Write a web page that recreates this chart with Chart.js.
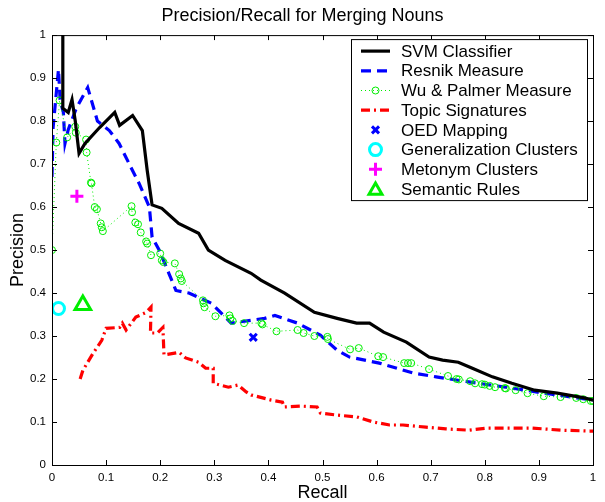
<!DOCTYPE html>
<html>
<head>
<meta charset="utf-8">
<script src="https://cdn.jsdelivr.net/npm/chart.js@4"></script>
<style>
  html, body { margin: 0; padding: 0; background: #fff; }
  #wrap { width: 605px; height: 502px; }
</style>
</head>
<body>
<div id="wrap"><canvas id="pr-chart" width="605" height="502"></canvas></div>
<script>
// recall/precision pairs
const svmPoints = [[0.02,1.0],[0.02,0.83],[0.03,0.82],[0.037,0.85],[0.043,0.80],[0.05,0.725],[0.061,0.748],[0.088,0.785],[0.116,0.82],[0.125,0.79],[0.149,0.813],[0.167,0.778],[0.176,0.685],[0.185,0.605],[0.203,0.597],[0.234,0.562],[0.271,0.539],[0.289,0.50],[0.32,0.476],[0.368,0.446],[0.386,0.43],[0.43,0.40],[0.485,0.355],[0.527,0.341],[0.563,0.33],[0.587,0.33],[0.613,0.309],[0.655,0.286],[0.697,0.251],[0.722,0.244],[0.751,0.239],[0.777,0.225],[0.814,0.205],[0.85,0.19],[0.892,0.174],[0.934,0.167],[0.984,0.156],[1.0,0.151]];

const resnikPoints = [[0.0,0.67],[0.002,0.785],[0.012,0.92],[0.015,0.85],[0.021,0.82],[0.024,0.748],[0.03,0.78],[0.045,0.83],[0.066,0.878],[0.084,0.80],[0.106,0.778],[0.124,0.748],[0.146,0.692],[0.161,0.655],[0.18,0.6],[0.185,0.53],[0.198,0.5],[0.216,0.446],[0.229,0.406],[0.253,0.40],[0.295,0.376],[0.331,0.33],[0.393,0.341],[0.412,0.348],[0.454,0.33],[0.496,0.302],[0.527,0.267],[0.55,0.251],[0.605,0.237],[0.667,0.214],[0.71,0.205],[0.788,0.19],[0.85,0.179],[0.91,0.167],[0.971,0.156],[1.0,0.151]];

const wuPalmerPoints = [[0,0.5],[0.008,0.75],[0.014,0.848],[0.028,0.762],[0.043,0.787],[0.044,0.773],[0.063,0.757],[0.064,0.727],[0.072,0.657],[0.073,0.655],[0.079,0.60],[0.083,0.595],[0.09,0.562],[0.092,0.553],[0.094,0.544],[0.147,0.602],[0.148,0.588],[0.154,0.564],[0.159,0.56],[0.164,0.541],[0.174,0.52],[0.176,0.515],[0.183,0.488],[0.2,0.492],[0.203,0.476],[0.206,0.472],[0.227,0.469],[0.235,0.444],[0.238,0.434],[0.24,0.428],[0.279,0.383],[0.28,0.376],[0.282,0.367],[0.302,0.346],[0.328,0.348],[0.33,0.341],[0.334,0.335],[0.355,0.33],[0.387,0.33],[0.389,0.327],[0.415,0.311],[0.454,0.314],[0.465,0.307],[0.485,0.30],[0.509,0.298],[0.51,0.293],[0.551,0.269],[0.567,0.272],[0.603,0.253],[0.612,0.251],[0.651,0.237],[0.658,0.237],[0.664,0.237],[0.697,0.223],[0.732,0.207],[0.748,0.2],[0.752,0.199],[0.773,0.195],[0.782,0.19],[0.795,0.188],[0.8,0.187],[0.809,0.184],[0.819,0.181],[0.837,0.179],[0.839,0.178],[0.857,0.174],[0.879,0.167],[0.909,0.16],[0.94,0.158],[0.969,0.156],[0.982,0.153],[0.996,0.149],[1.0,0.149]];

const topicPoints = [[0.052,0.2],[0.057,0.22],[0.076,0.26],[0.092,0.29],[0.1,0.318],[0.125,0.32],[0.13,0.33],[0.137,0.314],[0.155,0.344],[0.174,0.355],[0.183,0.367],[0.182,0.307],[0.195,0.307],[0.205,0.32],[0.207,0.256],[0.235,0.262],[0.247,0.249],[0.271,0.239],[0.284,0.225],[0.298,0.225],[0.298,0.19],[0.326,0.181],[0.344,0.186],[0.359,0.17],[0.368,0.163],[0.405,0.151],[0.426,0.146],[0.429,0.135],[0.46,0.137],[0.49,0.135],[0.496,0.121],[0.527,0.116],[0.563,0.112],[0.594,0.1],[0.624,0.093],[0.649,0.093],[0.691,0.088],[0.728,0.084],[0.77,0.081],[0.806,0.086],[0.85,0.086],[0.887,0.086],[0.941,0.081],[0.993,0.079],[1.0,0.079]];

const oedPoint = [[0.372, 0.297]];
const generalizationPoint = [[0.012, 0.364]];
const metonymPoint = [[0.046, 0.625]];
const semanticPoint = [[0.057, 0.372]];

const tickLabels = ["0", "0.1", "0.2", "0.3", "0.4", "0.5", "0.6", "0.7", "0.8", "0.9", "1"];

const FONT = '"Liberation Sans", Arial, Helvetica, sans-serif';
const NONE = "rgba(0,0,0,0)";
const toXY = (pts) => pts.map((p) => ({ x: p[0], y: p[1] }));

const datasets = [
  {
    label: "SVM Classifier",
    data: toXY(svmPoints),
    showLine: true, borderColor: "#000000", borderWidth: 3.2,
    pointRadius: 0, order: 1,
  },
  {
    label: "Resnik Measure",
    data: toXY(resnikPoints),
    showLine: true, borderColor: "#0000ff", borderWidth: 3.2, borderDash: [10, 6],
    pointRadius: 0, order: 3,
  },
  {
    label: "Wu & Palmer Measure",
    data: toXY(wuPalmerPoints),
    showLine: true, borderColor: "#00ee00", borderWidth: 1, borderDash: [1, 3],
    pointStyle: "circle", pointRadius: 3.5, pointBorderWidth: 1,
    pointBorderColor: "#00ee00", pointBackgroundColor: NONE, order: 2,
  },
  {
    label: "Topic Signatures",
    data: toXY(topicPoints),
    showLine: true, borderColor: "#ff0000", borderWidth: 3.2, borderDash: [9, 4, 2, 4],
    pointRadius: 0, order: 4,
  },
  {
    label: "OED Mapping",
    data: toXY(oedPoint),
    pointStyle: "crossRot", pointRadius: 5, pointBorderWidth: 3,
    pointBorderColor: "#0000ff", pointBackgroundColor: "#0000ff", order: 0,
  },
  {
    label: "Generalization Clusters",
    data: toXY(generalizationPoint),
    pointStyle: "circle", pointRadius: 6, pointBorderWidth: 3,
    pointBorderColor: "#00ffff", pointBackgroundColor: NONE, order: 0,
  },
  {
    label: "Metonym Clusters",
    data: toXY(metonymPoint),
    pointStyle: "cross", pointRadius: 6.5, pointBorderWidth: 3,
    pointBorderColor: "#ff00ff", pointBackgroundColor: "#ff00ff", order: 0,
  },
  {
    label: "Semantic Rules",
    data: toXY(semanticPoint),
    pointStyle: "triangle", pointRadius: 9, pointBorderWidth: 3,
    pointBorderColor: "#00ee00", pointBackgroundColor: NONE, order: 0,
  },
];

// matlab style frame with inward ticks on all four sides
const framePlugin = {
  id: "frame",
  afterDraw(chart) {
    const { ctx, chartArea: a, scales } = chart;
    ctx.save();
    ctx.strokeStyle = "#000";
    ctx.lineWidth = 1;
    ctx.strokeRect(a.left + 0.5, a.top + 0.5, a.right - a.left, a.bottom - a.top);
    const len = 5;
    ctx.beginPath();
    scales.x.ticks.forEach((t) => {
      const px = Math.round(scales.x.getPixelForValue(t.value)) + 0.5;
      ctx.moveTo(px, a.bottom); ctx.lineTo(px, a.bottom - len);
      ctx.moveTo(px, a.top); ctx.lineTo(px, a.top + len);
    });
    scales.y.ticks.forEach((t) => {
      const py = Math.round(scales.y.getPixelForValue(t.value)) + 0.5;
      ctx.moveTo(a.left, py); ctx.lineTo(a.left + len, py);
      ctx.moveTo(a.right, py); ctx.lineTo(a.right - len, py);
    });
    ctx.stroke();
    ctx.restore();
  },
};

// boxed legend in the upper right corner of the plot
const legendPlugin = {
  id: "boxLegend",
  afterDraw(chart) {
    const { ctx, chartArea: a } = chart;
    const boxW = 236, boxH = 161;
    const left = a.right - 6 - boxW, top = a.top + 4;
    ctx.save();
    ctx.fillStyle = "#fff";
    ctx.fillRect(left, top, boxW, boxH);
    ctx.strokeStyle = "#000";
    ctx.lineWidth = 1;
    ctx.strokeRect(left + 0.5, top + 0.5, boxW, boxH);

    const rowH = 19.7;
    const x0 = left + 10, x1 = left + 39, xm = (x0 + x1) / 2;
    chart.data.datasets.forEach((ds, i) => {
      const y = top + 12 + i * rowH;
      if (ds.showLine) {
        ctx.save();
        ctx.strokeStyle = ds.borderColor;
        ctx.lineWidth = ds.borderWidth;
        ctx.setLineDash(ds.borderDash || []);
        ctx.beginPath();
        ctx.moveTo(x0, y); ctx.lineTo(x1, y);
        ctx.stroke();
        ctx.restore();
      }
      if (ds.pointRadius > 0) {
        ctx.save();
        ctx.setLineDash([]);
        ctx.strokeStyle = ds.pointBorderColor;
        ctx.fillStyle = ds.pointBackgroundColor;
        ctx.lineWidth = ds.pointBorderWidth;
        Chart.helpers.drawPoint(ctx, {
          pointStyle: ds.pointStyle,
          radius: ds.showLine ? ds.pointRadius : Math.min(ds.pointRadius, 7.5),
          rotation: 0,
          borderWidth: ds.pointBorderWidth,
        }, xm, ds.pointStyle === "triangle" ? y + 1.5 : y);
        ctx.restore();
      }
      ctx.fillStyle = "#000";
      ctx.font = "17px " + FONT;
      ctx.textBaseline = "middle";
      ctx.fillText(ds.label, left + 50, y + 1);
    });
    ctx.restore();
  },
};

const ctx = document.getElementById("pr-chart").getContext("2d");
const prChart = new Chart(ctx, {
  type: "scatter",
  data: { datasets },
  options: {
    responsive: false,
    animation: false,
    devicePixelRatio: 1,
    layout: { padding: { left: 0, right: 0, top: 0, bottom: 0 } },
    elements: { line: { tension: 0, fill: false } },
    plugins: {
      legend: { display: false },
      tooltip: { enabled: false },
      title: {
        display: true,
        text: "Precision/Recall for Merging Nouns",
        color: "#000",
        font: { family: FONT, size: 18, weight: "normal", lineHeight: 1.2 },
        padding: { top: 5.5, bottom: 8 },
      },
    },
    scales: {
      x: {
        type: "linear", min: 0, max: 1,
        afterFit: (s) => { s.height = 37; s.paddingRight = 6; },
        grid: { display: false, drawTicks: false },
        border: { display: false },
        ticks: {
          stepSize: 0.1, padding: 6, color: "#000", maxRotation: 0,
          font: { family: FONT, size: 11.5 },
          callback: (v) => tickLabels[Math.round(v * 10)],
        },
        title: {
          display: true, text: "Recall", color: "#000",
          font: { family: FONT, size: 18, lineHeight: 1 }, padding: 0,
        },
      },
      y: {
        type: "linear", min: 0, max: 1,
        afterFit: (s) => { s.width = 52; },
        grid: { display: false, drawTicks: false },
        border: { display: false },
        ticks: {
          stepSize: 0.1, padding: 6, color: "#000",
          font: { family: FONT, size: 11.5 },
          callback: (v) => tickLabels[Math.round(v * 10)],
        },
        title: {
          display: true, text: "Precision", color: "#000",
          font: { family: FONT, size: 18, lineHeight: 1 }, padding: { top: 9, bottom: 0 },
        },
      },
    },
  },
  plugins: [framePlugin, legendPlugin],
});
</script>
</body>
</html>
